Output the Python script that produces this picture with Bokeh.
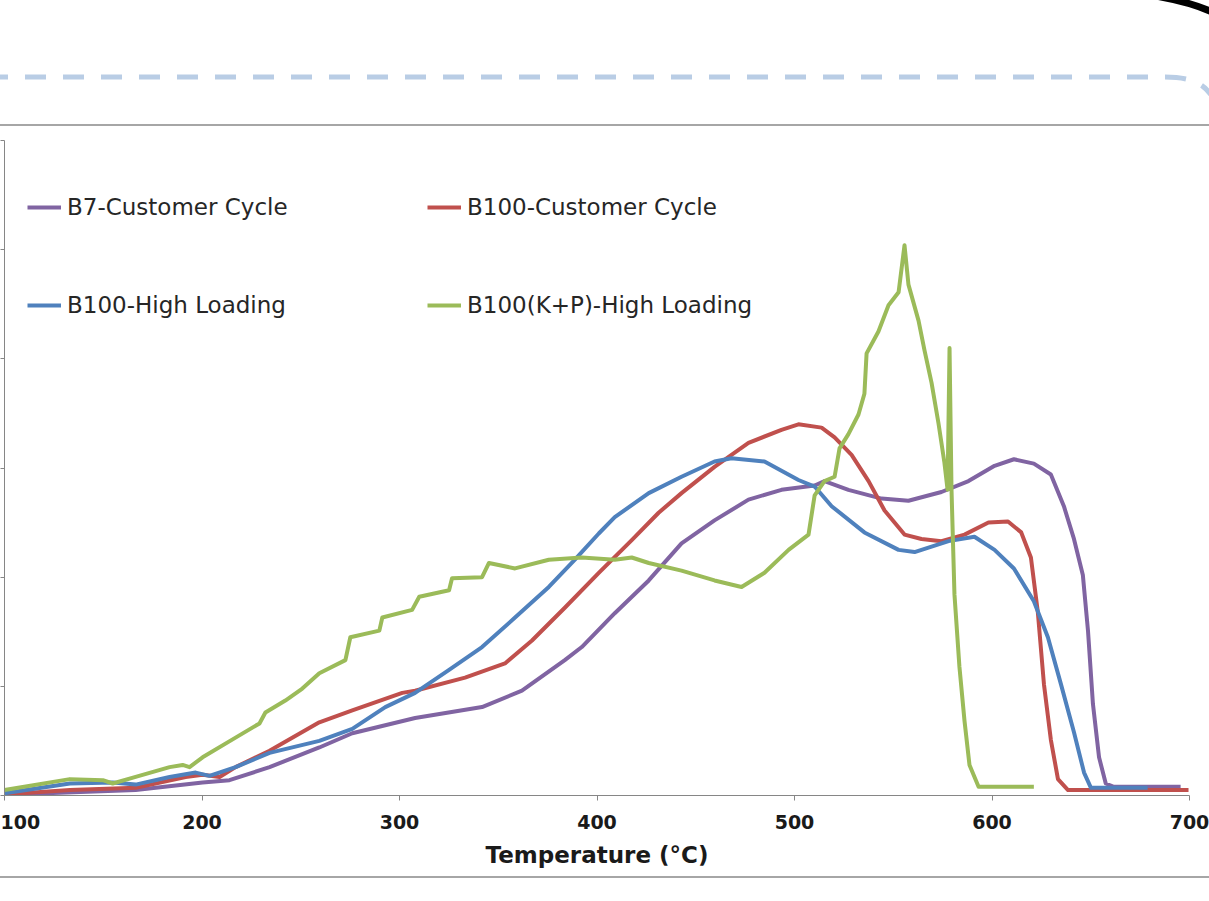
from bokeh.plotting import figure
from bokeh.layouts import column
from bokeh.models import Range1d, Legend, LegendItem, CustomJSTickFormatter, FixedTicker, Div
from bokeh.embed import file_html
from bokeh.resources import INLINE

# ---------------- data ----------------
series_names = ["B7-Customer Cycle", "B100-Customer Cycle",
                "B100-High Loading", "B100(K+P)-High Loading"]
series_colors = ["#8064A2", "#C0504D", "#4F81BD", "#9BBB59"]

temp_b7 = [100, 121.0, 166.4, 200.3, 213.9, 234.2, 259.4, 276.1, 307.9, 341.8,
           362.0, 383.7, 392.3, 409.0, 426.2, 442.8, 459.5, 476.7, 493.4, 510.2,
           515.2, 527.3, 544.1, 557.7, 574.4, 588.1, 601.3, 611.1, 621.2, 629.8,
           636.4, 641.5, 646.0, 648.6, 651.1, 654.2, 657.6, 661.7, 695.5]
val_b7 = [0.02, 0.02, 0.05, 0.12, 0.14, 0.26, 0.44, 0.57, 0.71, 0.81,
          0.96, 1.24, 1.36, 1.67, 1.97, 2.31, 2.52, 2.71, 2.80, 2.84,
          2.88, 2.80, 2.72, 2.70, 2.78, 2.88, 3.02, 3.08, 3.04, 2.94,
          2.65, 2.35, 2.02, 1.51, 0.84, 0.35, 0.11, 0.08, 0.08]

temp_b100_cc = [100, 133.1, 166.4, 191.7, 200.3, 208.9, 217.0, 234.2, 259.4, 276.1,
                301.4, 307.9, 333.2, 353.4, 367.1, 383.7, 400.9, 417.6, 431.2, 442.8,
                459.5, 476.7, 493.4, 502.0, 513.7, 520.3, 528.9, 537.5, 545.6, 555.7,
                564.3, 574.4, 586.1, 598.2, 608.1, 614.8, 619.7, 623.2, 626.3, 629.8,
                633.4, 638.5, 661.7, 699.5]
val_b100_cc = [0.01, 0.05, 0.07, 0.17, 0.19, 0.17, 0.26, 0.41, 0.67, 0.78,
               0.94, 0.96, 1.08, 1.21, 1.42, 1.72, 2.04, 2.34, 2.59, 2.77,
               3.01, 3.23, 3.35, 3.40, 3.37, 3.28, 3.12, 2.88, 2.61, 2.39,
               2.35, 2.33, 2.39, 2.50, 2.51, 2.41, 2.18, 1.68, 1.02, 0.51,
               0.15, 0.05, 0.05, 0.05]

temp_b100_hl = [100, 133.1, 154.8, 166.4, 183.6, 196.8, 203.8, 217.0, 234.2, 259.4,
                276.1, 292.8, 307.9, 325.1, 341.8, 358.5, 375.6, 388.8, 400.9, 409.0,
                426.2, 442.8, 459.5, 468.1, 484.8, 502.0, 510.2, 518.8, 535.4, 552.7,
                560.8, 578.0, 591.1, 601.3, 611.1, 621.2, 628.3, 634.9, 641.5, 646.6,
                650.1, 661.7, 678.8]
val_b100_hl = [0.02, 0.11, 0.12, 0.10, 0.17, 0.21, 0.18, 0.26, 0.39, 0.50,
               0.61, 0.81, 0.94, 1.15, 1.36, 1.63, 1.91, 2.16, 2.40, 2.55,
               2.77, 2.92, 3.06, 3.09, 3.06, 2.89, 2.83, 2.65, 2.41, 2.25,
               2.23, 2.33, 2.37, 2.25, 2.08, 1.78, 1.45, 1.02, 0.58, 0.21,
               0.07, 0.07, 0.07]

temp_b100_kp = [100, 133.1, 149.8, 154.8, 166.4, 183.6, 190.2, 193.7, 200.3, 217.0,
                229.1, 232.1, 242.2, 250.8, 259.4, 272.6, 275.1, 289.8, 291.3, 306.4,
                310.0, 325.1, 326.6, 341.8, 345.3, 358.5, 375.6, 392.3, 409.0, 417.6,
                426.2, 442.8, 459.5, 473.2, 484.8, 497.0, 507.1, 510.2, 515.2, 520.3,
                522.8, 527.3, 532.4, 535.4, 536.5, 542.5, 547.6, 552.7, 555.7, 557.7,
                562.8, 565.8, 569.4, 572.9, 575.9, 577.5, 578.5, 579.5, 581.0, 583.5,
                586.1, 588.6, 593.2, 621.2]
val_b100_kp = [0.05, 0.15, 0.14, 0.11, 0.17, 0.26, 0.28, 0.26, 0.35, 0.53,
               0.66, 0.76, 0.87, 0.98, 1.12, 1.24, 1.45, 1.51, 1.63, 1.70,
               1.82, 1.88, 1.99, 2.00, 2.13, 2.08, 2.16, 2.18, 2.16, 2.18,
               2.13, 2.06, 1.97, 1.91, 2.04, 2.25, 2.39, 2.75, 2.88, 2.92,
               3.18, 3.31, 3.49, 3.68, 4.05, 4.25, 4.49, 4.61, 5.04, 4.68,
               4.35, 4.08, 3.78, 3.41, 3.05, 2.80, 4.10, 2.80, 1.84, 1.18,
               0.68, 0.28, 0.08, 0.08]

x_ticks = [100, 200, 300, 400, 500, 600, 700]
y_ticks = [0, 1, 2, 3, 4, 5, 6]
x_label = "Temperature (°C)"

series_x = [temp_b7, temp_b100_cc, temp_b100_hl, temp_b100_kp]
series_y = [val_b7, val_b100_cc, val_b100_hl, val_b100_kp]

W = 1209
AXIS_GREY = "#868686"
FRAME_GREY = "#A6A6A6"
DECOR_BLUE = "#B9CDE5"

# ---------------- header / footer: slide decoration (not chart data) ----------------
header_svg = (
    f'<svg xmlns="http://www.w3.org/2000/svg" width="{W}" height="130" style="display:block">'
    f'<path d="M -13 77 L 1165 77 C 1192 77 1206 84 1214 100" fill="none" '
    f'stroke="{DECOR_BLUE}" stroke-width="5" stroke-dasharray="21 17"/>'
    f'<path d="M 1120 -9 C 1165 -4 1195 3 1216 14" fill="none" stroke="#000000" stroke-width="7"/>'
    f'<line x1="0" y1="125" x2="{W}" y2="125" stroke="{FRAME_GREY}" stroke-width="2"/>'
    f'</svg>'
)
footer_svg = (
    f'<svg xmlns="http://www.w3.org/2000/svg" width="{W}" height="31" style="display:block">'
    f'<line x1="0" y1="7" x2="{W}" y2="7" stroke="{FRAME_GREY}" stroke-width="2"/>'
    f'</svg>'
)
header = Div(text=header_svg, width=W, height=130, margin=0, styles={"overflow": "hidden"})
footer = Div(text=footer_svg, width=W, height=31, margin=0, styles={"overflow": "hidden"})

# ---------------- main chart ----------------
p = figure(width=W, height=740, x_range=Range1d(100, 700), y_range=Range1d(0, 6),
           toolbar_location=None, output_backend="svg",
           min_border_top=10, min_border_left=0, min_border_right=20, min_border_bottom=74,
           outline_line_color=None)
p.xgrid.visible = False
p.ygrid.visible = False

renderers = []
for xs, ys, c in zip(series_x, series_y, series_colors):
    r = p.line(xs, ys, line_color=c, line_width=4, line_join="round")
    renderers.append(r)

p.xaxis.ticker = FixedTicker(ticks=x_ticks)
p.yaxis.ticker = FixedTicker(ticks=y_ticks)
p.yaxis.formatter = CustomJSTickFormatter(code="return ''")
for ax in (p.xaxis, p.yaxis):
    ax.axis_line_color = AXIS_GREY
    ax.major_tick_line_color = AXIS_GREY
    ax.minor_tick_line_color = None
    ax.major_tick_in = 0
p.xaxis.major_tick_out = 5
p.yaxis.major_tick_out = 4
p.yaxis.major_label_standoff = 0
p.xaxis.major_label_text_font = "DejaVu Sans"
p.xaxis.major_label_text_font_style = "bold"
p.xaxis.major_label_text_font_size = "19px"
p.xaxis.major_label_text_color = "#1A1A1A"
p.xaxis.major_label_standoff = 14
p.xaxis.axis_label = x_label
p.xaxis.axis_label_text_font = "DejaVu Sans"
p.xaxis.axis_label_text_font_style = "bold"
p.xaxis.axis_label_text_font_size = "23px"
p.xaxis.axis_label_text_color = "#1A1A1A"
p.xaxis.axis_label_standoff = 10

# two-column legend, filled column by column -> order gives the row layout of the reference
legend_order = [0, 2, 1, 3]
legend = Legend(
    items=[LegendItem(label=series_names[i], renderers=[renderers[i]]) for i in legend_order],
    ncols=2, location=(23, 441),
    label_text_font="DejaVu Sans", label_text_font_size="23px", label_text_color="#262626",
    glyph_width=34, glyph_height=20, label_standoff=6, label_width=360, label_height=98,
    spacing=0, padding=0, margin=0, border_line_color=None, background_fill_alpha=0,
)
p.add_layout(legend)

layout = column(header, p, footer, spacing=0)
open("out.html", "w").write(file_html(layout, INLINE))
